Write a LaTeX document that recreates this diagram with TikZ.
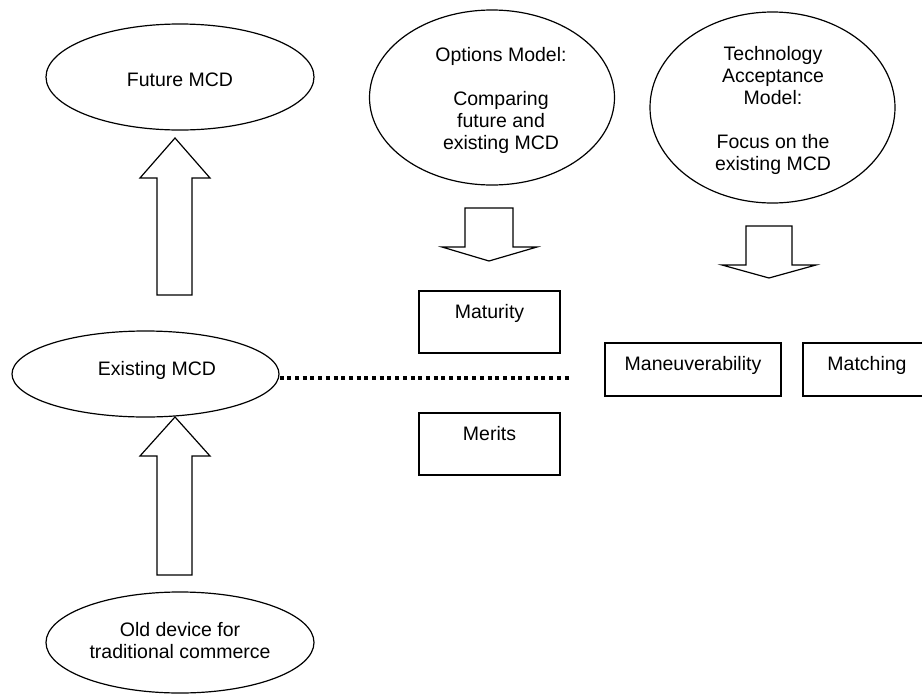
\documentclass[tikz,border=0pt]{standalone}
\usepackage{fontspec}
\setmainfont{Liberation Sans}
\usetikzlibrary{shapes.geometric}

\tikzset{
  outline/.style={draw=black, line width=1.2pt},
  oval/.style={outline, ellipse, inner sep=0pt},
  tagbox/.style={outline, rectangle, inner sep=0pt},
  label text/.style={font=\fontsize{19.5}{22}\selectfont, inner sep=0pt, align=center},
  blockarrow/.style={outline, fill=white, line join=miter},
  dotline/.style={draw=black, line width=4pt, dash pattern=on 4pt off 3.7pt}
}

\begin{document}
\begin{tikzpicture}[x=1pt, y=-1pt]
  \useasboundingbox (0,0) rectangle (922,694);

  % ovals
  \node[oval, minimum width=268pt, minimum height=106pt] (future) at (180,77) {};
  \node[oval, minimum width=245pt, minimum height=175pt] (options) at (492,97.5) {};
  \node[oval, minimum width=245pt, minimum height=191pt] (tam) at (772.5,107.5) {};
  \node[oval, minimum width=267pt, minimum height=86pt] (exist) at (145.5,374) {};
  \node[oval, minimum width=268pt, minimum height=101pt] (old) at (180,642.5) {};

  % oval texts
  \node[label text, anchor=base] (futuret) at (180,86) {Future MCD};
  \node[label text] (optionst) at (501,100.5) {Options Model:\\[22pt]Comparing\\future and\\existing MCD};
  \node[label text] (tamt) at (773,110) {Technology\\Acceptance\\Model:\\[22pt]Focus on the\\existing MCD};
  \node[label text, anchor=base] (existt) at (157,375) {Existing MCD};
  \node[label text] (oldt) at (180,641) {Old device for\\traditional commerce};

  % rectangles
  \node[tagbox, minimum width=141pt, minimum height=62pt] (maturity) at (489.5,322) {};
  \node[tagbox, minimum width=141pt, minimum height=62pt] (merits) at (489.5,444) {};
  \node[tagbox, minimum width=176pt, minimum height=53pt] (manoeuvre) at (693,369.5) {};
  \node[tagbox, minimum width=128pt, minimum height=53pt] (matching) at (867,369.5) {};

  \node[label text, anchor=base] (maturityt) at (489.5,318) {Maturity};
  \node[label text, anchor=base] (meritst) at (489.5,440) {Merits};
  \node[label text, anchor=base] (manoeuvret) at (693,370) {Maneuverability};
  \node[label text, anchor=base] (matchingt) at (867,370) {Matching};

  % block arrows
  \draw[blockarrow] (157,295) -- (157,178) -- (140,178) -- (175,138) -- (210,178)
                    -- (192,178) -- (192,295) -- cycle;
  \draw[blockarrow] (157,575) -- (157,456) -- (140,456) -- (175,417) -- (210,456)
                    -- (192,456) -- (192,575) -- cycle;
  \draw[blockarrow] (465,208) -- (465,247) -- (442,247) -- (489,261) -- (537,247)
                    -- (513,247) -- (513,208) -- cycle;
  \draw[blockarrow] (746,226) -- (746,265) -- (722,265) -- (769,278) -- (816,265)
                    -- (792,265) -- (792,226) -- cycle;

  % dotted link from the existing device
  \coordinate (dotend) at (572,378);
  \draw[dotline] (exist.east |- dotend) -- (dotend);
\end{tikzpicture}
\end{document}
